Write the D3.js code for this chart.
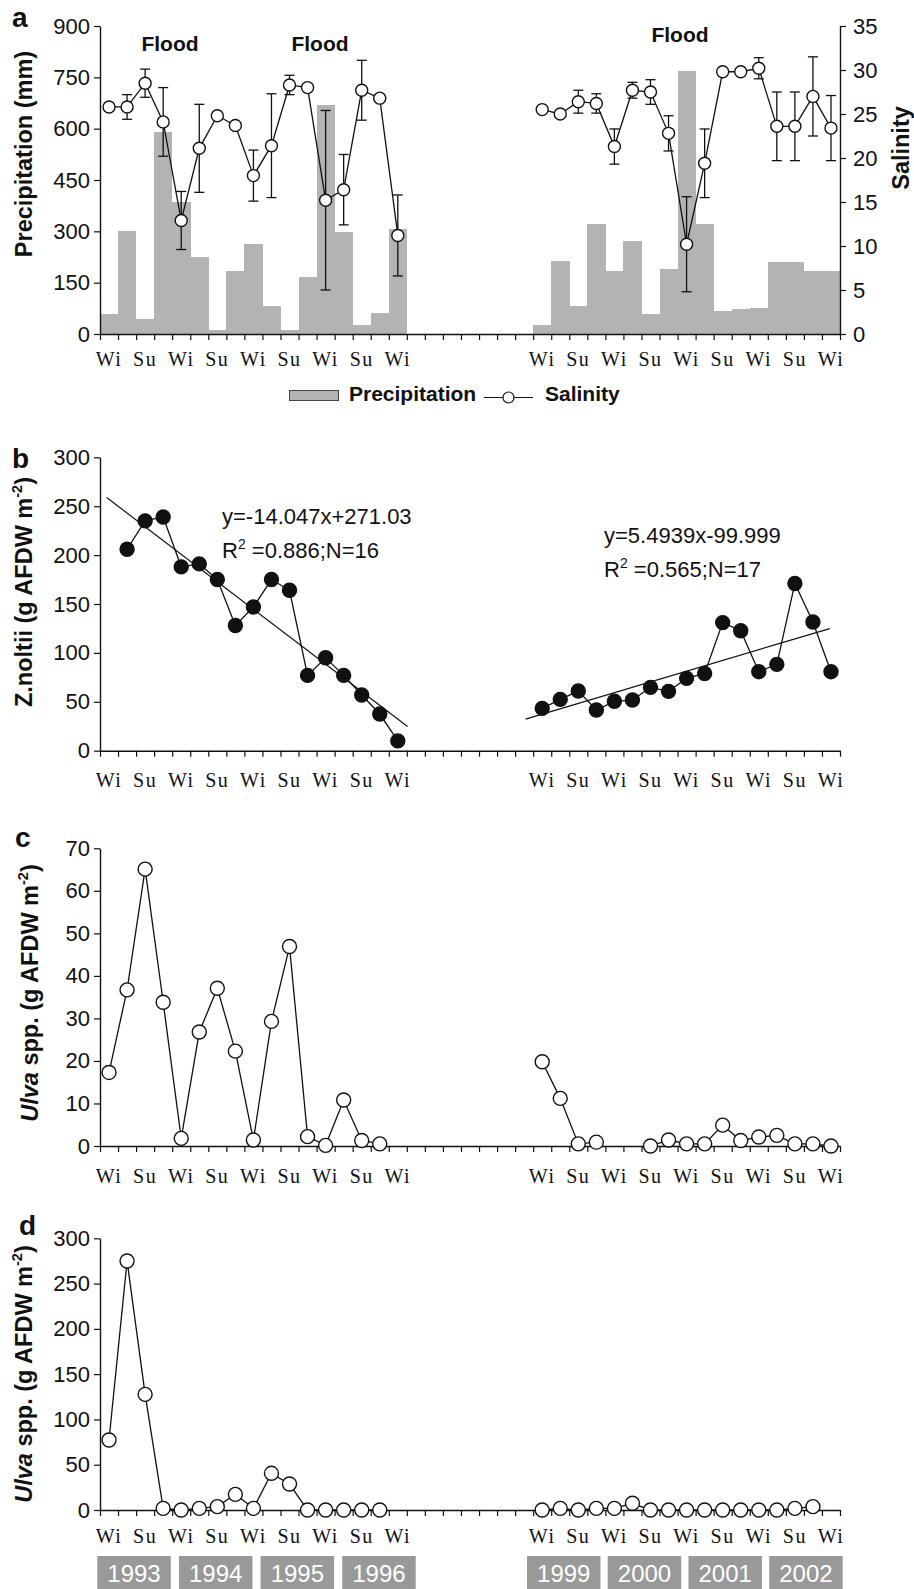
<!DOCTYPE html>
<html><head><meta charset="utf-8">
<script src="https://cdn.jsdelivr.net/npm/d3@7"></script>
<style>
body{margin:0;background:#fff}
svg{display:block}
text{font-family:"Liberation Sans",Arial,Helvetica,sans-serif;fill:#111}
</style>
</head><body>
<svg id="chart" width="914" height="1589"></svg>
<script>
// ---------------- DATA ----------------
const nBands = 41;                       // seasonal slots on the broken time axis
const seasonLabels = ["Wi","Su","Wi","Su","Wi","Su","Wi","Su","Wi"];
const labelStartLeft = 0, labelStartRight = 24;
const yearsLeft = ["1993","1994","1995","1996"];
const yearsRight = ["1999","2000","2001","2002"];
const floodLabels = ["Flood","Flood","Flood"];

// panel a: precipitation (mm), left block starts at band 0, right at band 24
const precipLeft  = [58,302,44,590,386,225,12,184,263,82,12,167,669,298,26,61,307];
const precipRight = [26,213,82,321,184,272,58,190,769,321,67,73,76,210,210,184,184];
// panel a: salinity and its error (null = no bar)
const salLeft     = [25.8,25.8,28.5,24.1,12.9,21.1,24.8,23.7,18.0,21.4,28.3,28.0,15.2,16.4,27.7,26.8,11.2];
const salErrLeft  = [null,1.4,1.6,3.9,3.3,5.0,null,null,2.9,5.9,1.1,null,10.2,4.0,3.4,null,4.6];
const salRight    = [25.5,25.0,26.4,26.2,21.3,27.7,27.5,22.8,10.2,19.4,29.8,29.8,30.2,23.6,23.6,27.0,23.4];
const salErrRight = [null,null,1.3,1.1,2.0,0.9,1.4,2.0,5.4,3.9,null,null,1.2,3.9,3.9,4.5,3.7];

// panel b: Z. noltii biomass; left starts band 1, right band 24
const zosLeft  = [206,235,239,188,191,175,128,147,175,164,77,95,77,57,37.5,10];
const zosRight = [43.3,52.5,61,41.6,50.5,51.8,64.8,60.7,74,79,131,122.7,80.8,88.3,171,131.6,80.8];
const trendLeft  = {slope:-14.047, intercept:271.03, xFrom:0.87, xTo:17.54,
                    eq:"y=-14.047x+271.03", r2:"0.886", n:"16"};
const trendRight = {slope:5.4939, intercept:-99.999, xFrom:24.08, xTo:40.93,
                    eq:"y=5.4939x-99.999", r2:"0.565", n:"17"};

// panel c: Ulva spp.; left starts band 0; right block 1 at band 24, block 2 at band 30
const ulvaCLeft   = [17.3,36.7,65.1,33.8,1.8,26.8,37.1,22.3,1.4,29.3,46.9,2.2,0.15,10.8,1.3,0.5];
const ulvaCRightA = [19.8,11.2,0.5,0.9];
const ulvaCRightB = [0,1.4,0.5,0.5,4.9,1.3,2.1,2.5,0.5,0.5,0];

// panel d: Ulva spp.; left starts band 0, right band 24
const ulvaDLeft  = [77.3,275,127.7,1.8,0,1.8,3.7,17.3,1.8,40.5,28.7,0,0,0,0,0];
const ulvaDRight = [0,1.8,0,1.8,1.8,7.4,0,0,0,0,0,0,0,0,1.8,3.7];

// axis ticks
const ticksPrecip = [0,150,300,450,600,750,900];
const ticksSal = [0,5,10,15,20,25,30,35];
const ticks300 = [0,50,100,150,200,250,300];
const ticks70 = [0,10,20,30,40,50,60,70];

// ---------------- HELPERS ----------------
const toPts = (arr, start) => arr.map((v,i) => ({band:start+i, value:v}));

const svg = d3.select("#chart");
const X0 = 100, X1 = 840;
const u = d3.scaleLinear().domain([0, nBands]).range([X0, X1]);
const xc = b => u(b + 0.5);
const INK = "#111";

function xAxis(y0, labelY){
  const g = svg.append("g").attr("transform",`translate(0,${y0})`)
    .call(d3.axisBottom(u).tickValues(d3.range(nBands+1)).tickFormat("").tickSize(6).tickSizeOuter(0));
  g.select(".domain").attr("stroke",INK).attr("stroke-width",1.4);
  g.selectAll(".tick line").attr("stroke",INK).attr("stroke-width",1.2);
  const labs = [];
  seasonLabels.forEach((s,k)=>labs.push({band:labelStartLeft+2*k, s}));
  seasonLabels.forEach((s,k)=>labs.push({band:labelStartRight+2*k, s}));
  svg.append("g").selectAll("text").data(labs).join("text")
    .attr("x", d=>xc(d.band)).attr("y", labelY)
    .attr("text-anchor","middle")
    .style("font-family",'"Liberation Serif","Times New Roman",serif')
    .style("font-size","20px").style("letter-spacing","1.5px")
    .text(d=>d.s);
}
function yAxisLeft(scale, ticks){
  const g = svg.append("g").attr("transform",`translate(${X0},0)`)
    .call(d3.axisLeft(scale).tickValues(ticks).tickSize(6).tickSizeOuter(0).tickPadding(4));
  g.select(".domain").attr("stroke",INK).attr("stroke-width",1.4);
  g.selectAll(".tick line").attr("stroke",INK).attr("stroke-width",1.2);
  g.selectAll(".tick text").style("font-size","22px").attr("fill",INK)
    .style("font-family",'"Liberation Sans",Arial,sans-serif');
}
function yTitle(x, yMid, parts, size){
  const t = svg.append("text").attr("transform",`translate(${x},${yMid}) rotate(-90)`)
    .attr("text-anchor","middle").style("font-size",size+"px").style("font-weight","bold");
  parts.forEach(p=>{
    const ts = t.append("tspan").text(p.t);
    if(p.i) ts.style("font-style","italic");
    if(p.sup) ts.style("font-size",(size*0.62)+"px").attr("dy",-size*0.42);
    if(p.after) ts.attr("dy",size*0.42);
  });
}
function panelLetter(x, y, s){
  svg.append("text").attr("x",x).attr("y",y).style("font-size","28px").style("font-weight","bold").text(s);
}
function lineSeries(pts, scale){
  svg.append("path").datum(pts)
    .attr("d", d3.line().x(d=>xc(d.band)).y(d=>scale(d.value)))
    .attr("fill","none").attr("stroke",INK).attr("stroke-width",1.3);
}
function dots(pts, scale, r, filled){
  svg.append("g").selectAll("circle").data(pts).join("circle")
    .attr("cx",d=>xc(d.band)).attr("cy",d=>scale(d.value)).attr("r",r)
    .attr("fill",filled?INK:"#fff").attr("stroke",INK).attr("stroke-width",1.4);
}

// ---------------- PANEL A ----------------
const yP = d3.scaleLinear().domain([0,900]).range([334,26]);
const yS = d3.scaleLinear().domain([0,35]).range([334,26]);
const bars = toPts(precipLeft,0).concat(toPts(precipRight,24));
svg.append("g").selectAll("rect").data(bars).join("rect")
  .attr("x",d=>u(d.band)).attr("width",d=>u(d.band+1)-u(d.band)+0.3)
  .attr("y",d=>yP(d.value)).attr("height",d=>yP(0)-yP(d.value))
  .attr("fill","#b3b3b3").attr("shape-rendering","crispEdges");

xAxis(334, 366);
yAxisLeft(yP, ticksPrecip);
{
  const g = svg.append("g").attr("transform",`translate(${X1},0)`)
    .call(d3.axisRight(yS).tickValues(ticksSal).tickSize(6).tickSizeOuter(0).tickPadding(7));
  g.select(".domain").attr("stroke",INK).attr("stroke-width",1.4);
  g.selectAll(".tick line").attr("stroke",INK).attr("stroke-width",1.2);
  g.selectAll(".tick text").style("font-size","22px").attr("fill",INK)
    .style("font-family",'"Liberation Sans",Arial,sans-serif');
}
const salL = salLeft.map((v,i)=>({band:i, value:v, err:salErrLeft[i]}));
const salR = salRight.map((v,i)=>({band:24+i, value:v, err:salErrRight[i]}));
[salL, salR].forEach(s=>lineSeries(s, yS));
const errs = salL.concat(salR).filter(d=>d.err!=null);
const eg = svg.append("g").attr("stroke",INK).attr("stroke-width",1.3);
errs.forEach(d=>{
  const x = xc(d.band), y1 = yS(d.value+d.err), y2 = yS(d.value-d.err);
  eg.append("line").attr("x1",x).attr("x2",x).attr("y1",y1).attr("y2",y2);
  eg.append("line").attr("x1",x-5).attr("x2",x+5).attr("y1",y1).attr("y2",y1);
  eg.append("line").attr("x1",x-5).attr("x2",x+5).attr("y1",y2).attr("y2",y2);
});
[salL, salR].forEach(s=>dots(s, yS, 6, false));

const floodPos = [{x:170,y:51},{x:320,y:51},{x:680,y:42}];
svg.append("g").selectAll("text").data(floodLabels).join("text")
  .attr("x",(d,i)=>floodPos[i].x).attr("y",(d,i)=>floodPos[i].y)
  .attr("text-anchor","middle").style("font-size","21px").style("font-weight","bold").text(d=>d);

yTitle(32, 154, [{t:"Precipitation (mm)"}], 23.5);
svg.append("text").attr("transform","translate(909,148) rotate(-90)")
  .attr("text-anchor","middle").style("font-size","23.5px").style("font-weight","bold").text("Salinity");
panelLetter(12, 27, "a");

// legend
svg.append("rect").attr("x",289.5).attr("y",390.5).attr("width",49).attr("height",10)
  .attr("fill","#b3b3b3").attr("stroke","#444").attr("stroke-width",1);
svg.append("text").attr("x",349).attr("y",401).style("font-size","21px").style("font-weight","bold").text("Precipitation");
svg.append("line").attr("x1",484).attr("x2",533).attr("y1",397.5).attr("y2",397.5).attr("stroke",INK).attr("stroke-width",1.2);
svg.append("circle").attr("cx",508.5).attr("cy",397.5).attr("r",5.5).attr("fill","#fff").attr("stroke",INK).attr("stroke-width",1.2);
svg.append("text").attr("x",545).attr("y",401).style("font-size","21px").style("font-weight","bold").text("Salinity");

// ---------------- PANEL B ----------------
const yB = d3.scaleLinear().domain([0,300]).range([750.7,457.3]);
xAxis(750.7, 787);
yAxisLeft(yB, ticks300);
[trendLeft, trendRight].forEach(t=>{
  const f = x => t.slope*x + t.intercept;
  svg.append("line")
    .attr("x1",u(t.xFrom-0.5)).attr("y1",yB(f(t.xFrom)))
    .attr("x2",u(t.xTo-0.5)).attr("y2",yB(f(t.xTo)))
    .attr("stroke",INK).attr("stroke-width",1.2);
});
const zL = toPts(zosLeft,1), zR = toPts(zosRight,24);
[zL,zR].forEach(s=>lineSeries(s, yB));
[zL,zR].forEach(s=>dots(s, yB, 7, true));
const eqPos = [{x:222,y1:524,y2:558},{x:604,y1:543,y2:577}];
[trendLeft, trendRight].forEach((t,i)=>{
  const p = eqPos[i];
  svg.append("text").attr("x",p.x).attr("y",p.y1).style("font-size","22px").text(t.eq);
  const r = svg.append("text").attr("x",p.x).attr("y",p.y2).style("font-size","22px");
  r.append("tspan").text("R");
  r.append("tspan").text("2").style("font-size","14px").attr("dy",-9);
  r.append("tspan").text(" =" + t.r2 + ";N=" + t.n).attr("dy",9);
});
yTitle(32, 592, [{t:"Z.noltii (g AFDW m"},{t:"-2",sup:true},{t:")",after:true}], 23.5);
panelLetter(12, 468, "b");

// ---------------- PANEL C ----------------
const yC = d3.scaleLinear().domain([0,70]).range([1146,848.3]);
xAxis(1146, 1183);
yAxisLeft(yC, ticks70);
const cL = toPts(ulvaCLeft,0), cRA = toPts(ulvaCRightA,24), cRB = toPts(ulvaCRightB,30);
[cL,cRA,cRB].forEach(s=>lineSeries(s, yC));
[cL,cRA,cRB].forEach(s=>dots(s, yC, 7, false));
yTitle(38, 993, [{t:"Ulva",i:true},{t:" spp. (g AFDW m"},{t:"-2",sup:true},{t:")",after:true}], 23.5);
panelLetter(15, 847, "c");

// ---------------- PANEL D ----------------
const yD = d3.scaleLinear().domain([0,300]).range([1510,1238.3]);
xAxis(1510, 1543);
yAxisLeft(yD, ticks300);
const dL = toPts(ulvaDLeft,0), dR = toPts(ulvaDRight,24);
[dL,dR].forEach(s=>lineSeries(s, yD));
[dL,dR].forEach(s=>dots(s, yD, 7, false));
yTitle(32, 1374, [{t:"Ulva",i:true},{t:" spp. (g AFDW m"},{t:"-2",sup:true},{t:")",after:true}], 23.5);
panelLetter(19, 1235, "d");

// year boxes
const yrL = d3.scaleBand().domain(yearsLeft).range([97.3,415.7]).paddingInner(0.1);
const yrR = d3.scaleBand().domain(yearsRight).range([527,842.7]).paddingInner(0.09);
[[yearsLeft,yrL],[yearsRight,yrR]].forEach(([ys,sc])=>{
  const g = svg.append("g").selectAll("g").data(ys).join("g");
  g.append("rect").attr("x",d=>sc(d)).attr("width",sc.bandwidth())
    .attr("y",1556).attr("height",34).attr("fill","#999999");
  g.append("text").attr("x",d=>sc(d)+sc.bandwidth()/2).attr("y",1582)
    .attr("text-anchor","middle").style("font-size","24px").style("fill","#fff").text(d=>d);
});
</script>
</body></html>
